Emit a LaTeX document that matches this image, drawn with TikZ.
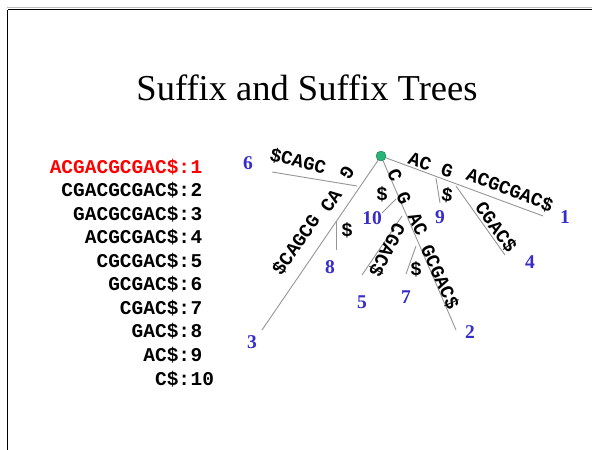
\documentclass[tikz,border=0pt]{standalone}
\usepackage{fontspec}
\setmainfont{Liberation Serif}
\newfontfamily\monob{Liberation Mono}
\definecolor{leafblue}{RGB}{55,45,200}
\definecolor{dotgreen}{RGB}{40,180,120}
\definecolor{edgegray}{RGB}{150,150,150}
\begin{document}
\begin{tikzpicture}[x=1pt,y=-1pt,
  edge/.style={draw=edgegray, line width=0.9pt},
  lbl/.style={font=\monob\bfseries\fontsize{19}{19}\selectfont, inner sep=0pt},
  leafnum/.style={font=\bfseries\fontsize{19.5}{19.5}\selectfont, text=leafblue, inner sep=0pt},
  sfx/.style={font=\monob\bfseries\fontsize{19.5}{20}\selectfont, inner sep=0pt}]
\useasboundingbox (0,0) rectangle (592,450);
\fill[white] (0,0) rectangle (592,450);
% frame
\draw[black!25, line width=0.8pt] (7,7.6) -- (592,7.6);
\draw[black, line width=1.1pt] (7.5,9.6) -- (592,9.6);
\draw[black, line width=1.1pt] (7.5,9.6) -- (7.5,450);
% title
\node[font=\fontsize{36.5}{36.5}\selectfont, inner sep=0pt] (title) at (307,88) {Suffix and Suffix Trees};
% suffix list
\foreach \s/\n [count=\i from 0] in {ACGACGCGAC/1,CGACGCGAC/2,GACGCGAC/3,ACGCGAC/4,CGCGAC/5,GCGAC/6,CGAC/7,GAC/8,AC/9,C/10}{
  \pgfmathsetmacro{\yy}{173+23.56*\i}
  \ifnum\i=0
    \node[sfx, text=red, anchor=base east] (suf\i) at (190.4,\yy) {\s\$:};
    \node[sfx, text=red, anchor=base west] (num\i) at (190.4,\yy) {\n};
  \else
    \node[sfx, anchor=base east] (suf\i) at (190.4,\yy) {\s\$:};
    \node[sfx, anchor=base west] (num\i) at (190.4,\yy) {\n};
  \fi
}
% tree coordinates
\coordinate (root) at (381,156);
\coordinate (e1) at (543,216);
\coordinate (nA9) at (436,178);
\coordinate (e9) at (440,203);
\coordinate (nA4) at (456,186);
\coordinate (e4) at (505,255);
\coordinate (e2) at (456,330);
\coordinate (nC) at (396,199);
\coordinate (e10) at (382,213);
\coordinate (nCG) at (402,216);
\coordinate (e5) at (362,275);
\coordinate (nCGAC) at (416,246);
\coordinate (e7) at (406,274);
\coordinate (e3) at (262,330);
\coordinate (nG) at (357,186);
\coordinate (e6) at (272,172);
\coordinate (nGAC) at (336,221);
\coordinate (e8) at (336,250);
% edges
\draw[edge] (root) -- (e1);
\draw[edge] (nA9) -- (e9);
\draw[edge] (nA4) -- (e4);
\draw[edge] (root) -- (e2);
\draw[edge] (nC) -- (e10);
\draw[edge] (nCG) -- (e5);
\draw[edge] (nCGAC) -- (e7);
\draw[edge] (root) -- (e3);
\draw[edge] (nG) -- (e6);
\draw[edge] (nGAC) -- (e8);
% root dot
\node[circle, fill=dotgreen, draw=dotgreen!70!black, line width=0.4pt, minimum size=10pt, inner sep=0pt] (rootdot) at (root) {};
% edge labels: A branch
\node[lbl, rotate=-20] (lAC) at (420,162) {AC};
\node[lbl, rotate=-20] (lAG) at (447,171) {G};
\node[lbl, rotate=-21] (lA1) at (510,190) {ACGCGAC\$};
\node[lbl, rotate=-8] (lA9) at (447,195) {\$};
\node[lbl, rotate=-54] (lA4) at (496,227) {CGAC\$};
% C branch
\node[lbl, rotate=-66] (lC) at (395,175) {C};
\node[lbl, rotate=-66] (lCG) at (404,198) {G};
\node[lbl] (lC10) at (382,194) {\$};
\node[lbl, rotate=-66] (lCGAC) at (418,224) {AC};
\node[lbl, rotate=-66] (lC2) at (440,277) {GCGAC\$};
\node[lbl, rotate=-118] (lC5) at (387,250) {CGAC\$};
\node[lbl] (lC7) at (416,269) {\$};
% G branch
\node[lbl, rotate=-14] (lG6) at (298,161) {\$CAGC};
\node[lbl, rotate=-125] (lG) at (347,173) {G};
\node[lbl, rotate=55] (lGAC) at (331,201) {CA};
\node[lbl, rotate=55] (lG3) at (296,245) {\$CAGCG};
\node[lbl] (lG8) at (347,230) {\$};
% leaf numbers
\node[leafnum] (leaf1) at (565,217) {1};
\node[leafnum] (leaf2) at (470,332) {2};
\node[leafnum] (leaf3) at (252,342) {3};
\node[leafnum] (leaf4) at (530,262) {4};
\node[leafnum] (leaf5) at (362,302) {5};
\node[leafnum] (leaf6) at (248,163) {6};
\node[leafnum] (leaf7) at (406,297) {7};
\node[leafnum] (leaf8) at (330,267) {8};
\node[leafnum] (leaf9) at (440,217) {9};
\node[leafnum] (leaf10) at (372,218) {10};
\end{tikzpicture}
\end{document}
